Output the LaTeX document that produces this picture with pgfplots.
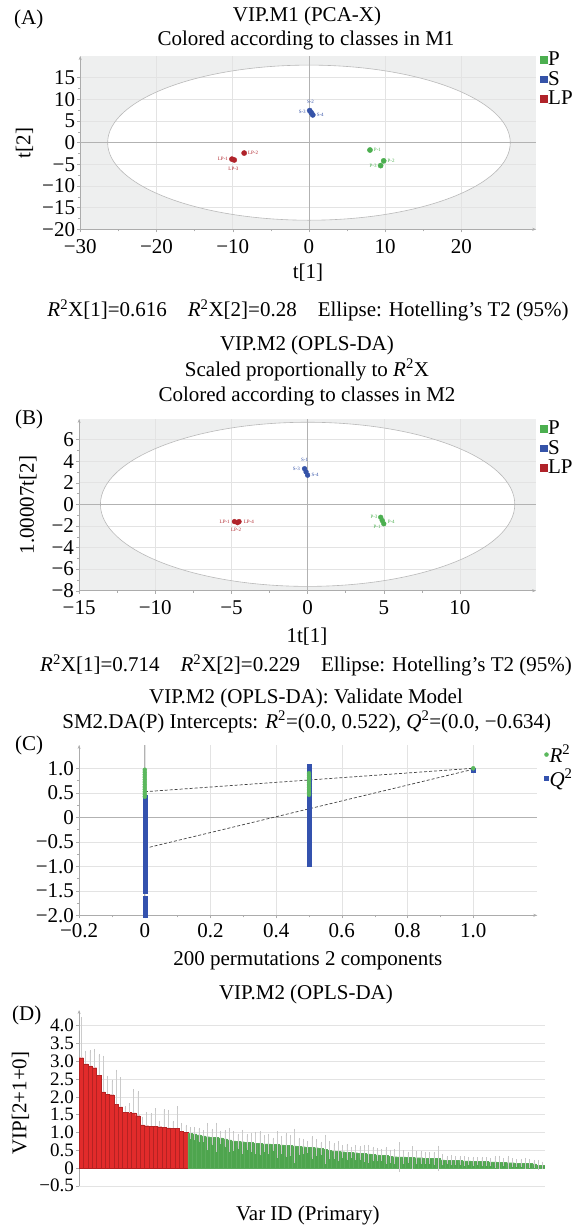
\documentclass[border=0pt]{standalone}
\usepackage{fontspec}
\setmainfont{Liberation Serif}
\usepackage{pgfplots}
\pgfplotsset{compat=1.18}
\usepackage{pgfplotstable}
\usetikzlibrary{arrows.meta}

\definecolor{pgreen}{HTML}{4CAF50}
\definecolor{sblue}{HTML}{3553A8}
\definecolor{lpred}{HTML}{B0232A}
\definecolor{rgreen}{HTML}{5BB85D}
\definecolor{qblue}{HTML}{3452AE}
\definecolor{barred}{HTML}{E22B2B}
\definecolor{bargreen}{HTML}{4EA54E}
\definecolor{bggray}{HTML}{EEEFEF}

\newcommand\F{\fontsize{21}{24}\selectfont}
\newcommand\lab{\fontsize{5}{6}\selectfont}
\newcommand\Rsq{\textit{R}\textsuperscript{2}}
\newcommand\Qsq{\textit{Q}\textsuperscript{2}}

% VIP values (panel D), x = variable rank
\pgfplotstableread{
x y e
1 3.10 1.10
2 2.93 0.33
3 2.87 0.41
4 2.82 0.49
5 2.60 0.57
6 2.14 0.98
7 2.08 0.48
8 2.06 0.38
9 1.79 0.94
10 1.72 0.79
11 1.57 0.13
12 1.56 0.23
13 1.55 0.63
14 1.47 0.65
15 1.21 0.18
16 1.19 0.34
17 1.18 0.32
18 1.17 0.47
19 1.16 0.13
20 1.14 0.48
21 1.13 0.47
22 1.12 0.17
23 1.12 0.58
24 1.03 0.20
25 1.01 0.17
}\redtab
\pgfplotstableread{
x y e
26 0.98 0.13
27 0.96 0.15
28 0.93 0.17
29 0.90 0.12
30 0.88 0.35
31 0.87 0.20
32 0.86 0.38
33 0.85 0.15
34 0.82 0.20
35 0.79 0.30
36 0.76 0.25
37 0.75 0.18
38 0.74 0.30
39 0.73 0.18
40 0.72 0.22
41 0.70 0.28
42 0.69 0.30
43 0.68 0.20
44 0.68 0.25
45 0.67 0.15
46 0.66 0.33
47 0.65 0.22
48 0.64 0.30
49 0.63 0.25
50 0.62 0.45
51 0.61 0.20
52 0.60 0.18
53 0.59 0.12
54 0.58 0.28
55 0.57 0.20
56 0.55 0.15
57 0.52 0.38
58 0.50 0.22
59 0.48 0.18
60 0.47 0.25
61 0.46 0.15
62 0.45 0.20
63 0.44 0.12
64 0.43 0.18
65 0.42 0.15
66 0.41 0.20
67 0.40 0.22
68 0.39 0.17
69 0.37 0.15
70 0.36 0.13
71 0.35 0.20
72 0.33 0.15
73 0.32 0.18
74 0.31 0.38
75 0.31 0.15
76 0.30 0.12
77 0.30 0.28
78 0.29 0.15
79 0.29 0.14
80 0.28 0.13
81 0.28 0.12
82 0.27 0.15
83 0.27 0.32
84 0.23 0.12
85 0.22 0.08
86 0.22 0.10
87 0.21 0.09
88 0.21 0.08
89 0.20 0.10
90 0.20 0.08
91 0.19 0.09
92 0.19 0.07
93 0.18 0.10
94 0.18 0.08
95 0.17 0.07
96 0.17 0.12
97 0.16 0.15
98 0.16 0.08
99 0.15 0.14
100 0.15 0.09
101 0.14 0.07
102 0.14 0.08
103 0.13 0.12
104 0.13 0.08
105 0.12 0.07
106 0.08 0.10
107 0.07 0.07
}\greentab

\pgfplotsset{
  panel/.style={
    scale only axis, enlargelimits=false, axis lines=left,
    axis line style={gray!65, line width=0.6pt, -{Stealth[length=4pt,width=3pt]}},
    tick align=outside, major tick length=3pt, minor tick length=2pt,
    tick style={gray!65, line width=0.4pt},
    grid=major, major grid style={gray!22, line width=0.5pt},
    ticklabel style={font=\F},
    yticklabel style={inner xsep=2pt},
    xticklabel style={inner ysep=2pt, yshift=-3pt},
  },
  sqlegend/.style={
    legend style={draw=none, fill=none, font=\F, inner sep=0pt,
      at={(axis description cs:1,1)}, anchor=north west, row sep=2pt,
      legend cell align=left, nodes={inner sep=1pt}},
    legend image code/.code={\fill (0pt,-3.3pt) rectangle (6.6pt,3.3pt);},
  },
  vipbar/.style={ybar, bar shift=0pt, bar width=1, line width=0.25pt,
    error bars/.cd, y explicit,
    error bar style={gray!40, line width=0.3pt},
    error mark options={gray!45, mark size=1.3pt, line width=0.3pt}},
}

\begin{document}
\begin{tikzpicture}[font=\F, txt/.style={inner sep=0pt}]

% ---------------- (A) PCA-X score plot
\node[txt, anchor=base west] at (14pt,-24pt) {(A)};
\node[txt, anchor=base] at (307pt,-21pt) {VIP.M1 (PCA-X)};
\node[txt, anchor=base] at (306pt,-45pt) {Colored according to classes in M1};
\begin{axis}[panel, sqlegend, set layers,
  at={(80.2pt,-229.3pt)}, anchor=south west, width=456pt, height=173.3pt,
  xmin=-30, xmax=29.8, ymin=-20, ymax=20,
  xtick={-30,-20,-10,0,10,20}, xticklabels={−30,−20,−10,0,10,20},
  ytick={-20,-15,-10,-5,0,5,10,15}, yticklabels={−20,−15,−10,−5,0,5,10,15},
  minor x tick num=1, minor y tick num=1,
  xticklabel style={yshift=-2pt},
  legend style={xshift=3.8pt, yshift=5pt}]
\begin{pgfonlayer}{axis background}
  \fill[bggray] (rel axis cs:0,0) rectangle (rel axis cs:1,1);
  \fill[white] (axis cs:0,0) ellipse [x radius=26.4, y radius=17.9];
\end{pgfonlayer}
\draw[gray!55, line width=0.6pt] (axis cs:0,0) ellipse [x radius=26.4, y radius=17.9];
\draw[gray!60, line width=0.8pt] (axis cs:-30,0) -- (axis cs:29.8,0);
\draw[gray!60, line width=0.8pt] (axis cs:0,-20) -- (axis cs:0,20);
\addplot[only marks, mark=*, mark size=2.6pt, pgreen] coordinates {(8.0,-1.7) (9.8,-4.2) (9.4,-5.3)};
\addlegendentry{P}
\addplot[only marks, mark=*, mark size=2.6pt, sblue] coordinates {(0.1,7.4) (0.3,6.9) (0.5,6.4)};
\addlegendentry{S}
\addplot[only marks, mark=*, mark size=2.6pt, lpred] coordinates {(-10.1,-3.8) (-9.8,-4.0) (-8.5,-2.4)};
\addlegendentry{LP}
\node[font=\lab, sblue, inner sep=0pt] at (axis cs:0.2,9.4) {S-2};
\node[font=\lab, sblue, inner sep=0pt, anchor=east] at (axis cs:-0.4,7.0) {S-3};
\node[font=\lab, sblue, inner sep=0pt, anchor=west] at (axis cs:1.0,6.4) {S-4};
\node[font=\lab, lpred, inner sep=0pt, anchor=east] at (axis cs:-10.6,-3.8) {LP-1};
\node[font=\lab, lpred, inner sep=0pt, anchor=west] at (axis cs:-8.0,-2.4) {LP-2};
\node[font=\lab, lpred, inner sep=0pt] at (axis cs:-9.9,-6.0) {LP-3};
\node[font=\lab, pgreen, inner sep=0pt, anchor=west] at (axis cs:8.5,-1.7) {P-1};
\node[font=\lab, pgreen, inner sep=0pt, anchor=west] at (axis cs:10.3,-4.2) {P-2};
\node[font=\lab, pgreen, inner sep=0pt, anchor=east] at (axis cs:8.9,-5.3) {P-3};
\end{axis}
\node[txt, anchor=base] at (308pt,-278pt) {t[1]};
\node[txt, rotate=90] at (24.5pt,-143pt) {t[2]};

% ---------------- (B) OPLS-DA score plot
\node[txt, anchor=base] at (308pt,-316.7pt) {\Rsq X[1]=0.616\quad\Rsq X[2]=0.28\quad Ellipse: Hotelling’s T2 (95\%)};
\node[txt, anchor=base] at (307pt,-350pt) {VIP.M2 (OPLS-DA)};
\node[txt, anchor=base] at (307pt,-376pt) {Scaled proportionally to \Rsq X};
\node[txt, anchor=base] at (307pt,-401.7pt) {Colored according to classes in M2};
\node[txt, anchor=base west] at (15pt,-424pt) {(B)};
\begin{axis}[panel, sqlegend, set layers,
  at={(79.1pt,-590.7pt)}, anchor=south west, width=457pt, height=171.7pt,
  xmin=-15, xmax=15, ymin=-8, ymax=7.9,
  xtick={-15,-10,-5,0,5,10}, xticklabels={−15,−10,−5,0,5,10},
  ytick={-8,-6,-4,-2,0,2,4,6}, yticklabels={−8,−6,−4,−2,0,2,4,6},
  minor x tick num=1, minor y tick num=1,
  xticklabel style={yshift=-2pt},
  legend style={xshift=3.8pt, yshift=-1pt}]
\begin{pgfonlayer}{axis background}
  \fill[bggray] (rel axis cs:0,0) rectangle (rel axis cs:1,1);
  \fill[white] (axis cs:0,0) ellipse [x radius=13.6, y radius=7.6];
\end{pgfonlayer}
\draw[gray!55, line width=0.6pt] (axis cs:0,0) ellipse [x radius=13.6, y radius=7.6];
\draw[gray!60, line width=0.8pt] (axis cs:-15,0) -- (axis cs:15,0);
\draw[gray!60, line width=0.8pt] (axis cs:0,-8) -- (axis cs:0,7.9);
\addplot[only marks, mark=*, mark size=2.4pt, pgreen] coordinates {(4.8,-1.2) (4.9,-1.5) (5.0,-1.8)};
\addlegendentry{P}
\addplot[only marks, mark=*, mark size=2.4pt, sblue] coordinates {(-0.2,3.3) (-0.1,3.0) (0.0,2.7)};
\addlegendentry{S}
\addplot[only marks, mark=*, mark size=2.4pt, lpred] coordinates {(-4.8,-1.6) (-4.6,-1.7) (-4.5,-1.6)};
\addlegendentry{LP}
\node[font=\lab, sblue, inner sep=0pt] at (axis cs:-0.2,4.1) {S-1};
\node[font=\lab, sblue, inner sep=0pt, anchor=east] at (axis cs:-0.5,3.3) {S-3};
\node[font=\lab, sblue, inner sep=0pt, anchor=west] at (axis cs:0.25,2.7) {S-4};
\node[font=\lab, lpred, inner sep=0pt, anchor=east] at (axis cs:-5.1,-1.6) {LP-1};
\node[font=\lab, lpred, inner sep=0pt, anchor=west] at (axis cs:-4.2,-1.6) {LP-4};
\node[font=\lab, lpred, inner sep=0pt] at (axis cs:-4.7,-2.4) {LP-2};
\node[font=\lab, pgreen, inner sep=0pt, anchor=east] at (axis cs:4.6,-1.2) {P-3};
\node[font=\lab, pgreen, inner sep=0pt, anchor=west] at (axis cs:5.25,-1.6) {P-4};
\node[font=\lab, pgreen, inner sep=0pt, anchor=east] at (axis cs:4.8,-2.1) {P-1};
\end{axis}
\node[txt, anchor=base] at (307pt,-642pt) {1t[1]};
\node[txt, rotate=90] at (28pt,-505pt) {1.00007t[2]};

% ---------------- (C) permutation test
\node[txt, anchor=base] at (306pt,-671.7pt) {\Rsq X[1]=0.714\quad\Rsq X[2]=0.229\quad Ellipse: Hotelling’s T2 (95\%)};
\node[txt, anchor=base] at (306pt,-703.3pt) {VIP.M2 (OPLS-DA): Validate Model};
\node[txt, anchor=base] at (306.7pt,-728.3pt) {SM2.DA(P) Intercepts: \Rsq=(0.0, 0.522), \Qsq=(0.0, −0.634)};
\node[txt, anchor=base west] at (15pt,-750pt) {(C)};
\begin{axis}[panel,
  at={(79.1pt,-915.3pt)}, anchor=south west, width=458.2pt, height=170.3pt,
  xmin=-0.2, xmax=1.195, ymin=-2, ymax=1.475,
  xtick={-0.2,0,0.2,0.4,0.6,0.8,1.0}, xticklabels={−0.2,0,0.2,0.4,0.6,0.8,1.0},
  ytick={-2,-1.5,-1,-0.5,0,0.5,1}, yticklabels={−2.0,−1.5,−1.0,−0.5,0,0.5,1.0},
  minor x tick num=1, minor y tick num=1,
  reverse legend,
  legend style={draw=none, fill=none, font=\F, inner sep=0pt,
    at={(axis description cs:1,1)}, anchor=north west, xshift=7pt, yshift=1pt,
    row sep=3pt, legend cell align=left, nodes={inner sep=1pt}},
  legend image code/.code={\draw plot coordinates {(2.5pt,0pt)};}]
\draw[gray!60, line width=0.8pt] (axis cs:-0.2,0) -- (axis cs:1.195,0);
\draw[gray!60, line width=0.8pt] (axis cs:0,-2) -- (axis cs:0,1.475);
\addplot[only marks, mark=square*, mark size=2pt, qblue] coordinates {
 (0,-2.00) (0,-1.95) (0,-1.90) (0,-1.85) (0,-1.80) (0,-1.75) (0,-1.70) (0,-1.65)
 (0,-1.50) (0,-1.45) (0,-1.40) (0,-1.35) (0,-1.30) (0,-1.25) (0,-1.20) (0,-1.15)
 (0,-1.10) (0,-1.05) (0,-1.00) (0,-0.95) (0,-0.90) (0,-0.85) (0,-0.80) (0,-0.75)
 (0,-0.70) (0,-0.65) (0,-0.60) (0,-0.55) (0,-0.50) (0,-0.45) (0,-0.40) (0,-0.35)
 (0,-0.30) (0,-0.25) (0,-0.20) (0,-0.15) (0,-0.10) (0,-0.05) (0,0.00) (0,0.05)
 (0,0.10) (0,0.15) (0,0.20) (0,0.25) (0,0.30) (0,0.35) (0,0.40)
 (0.5,-0.95) (0.5,-0.90) (0.5,-0.85) (0.5,-0.80) (0.5,-0.75) (0.5,-0.70) (0.5,-0.65)
 (0.5,-0.60) (0.5,-0.55) (0.5,-0.50) (0.5,-0.45) (0.5,-0.40) (0.5,-0.35) (0.5,-0.30)
 (0.5,-0.25) (0.5,-0.20) (0.5,-0.15) (0.5,-0.10) (0.5,-0.05) (0.5,0.00) (0.5,0.05)
 (0.5,0.10) (0.5,0.15) (0.5,0.20) (0.5,0.25) (0.5,0.30) (0.5,0.35) (0.5,0.40)
 (0.5,0.45) (0.5,0.50) (0.5,0.55) (0.5,0.60) (0.5,0.65) (0.5,0.70) (0.5,0.75)
 (0.5,0.80) (0.5,0.85) (0.5,0.90) (0.5,0.95) (0.5,1.00) (0.5,1.04)
 (1,0.97)};
\addlegendentry{\Qsq}
\addplot[only marks, mark=*, mark size=2pt, rgreen] coordinates {
 (0,0.42) (0,0.47) (0,0.52) (0,0.57) (0,0.62) (0,0.67) (0,0.72) (0,0.77)
 (0,0.82) (0,0.87) (0,0.92) (0,0.97)
 (0.5,0.46) (0.5,0.51) (0.5,0.56) (0.5,0.61) (0.5,0.66) (0.5,0.71) (0.5,0.76)
 (0.5,0.81) (0.5,0.86) (0.5,0.90)
 (1,1.00)};
\addlegendentry{\Rsq}
\addplot[forget plot, black!75, densely dashed, line width=0.7pt] coordinates {(0,0.522) (1,1.0)};
\addplot[forget plot, black!75, densely dashed, line width=0.7pt] coordinates {(0,-0.634) (1,0.98)};
\end{axis}
\node[txt, anchor=base] at (307.8pt,-965pt) {200 permutations 2 components};

% ---------------- (D) VIP plot
\node[txt, anchor=base] at (306pt,-999.3pt) {VIP.M2 (OPLS-DA)};
\node[txt, anchor=base west] at (12pt,-1020.7pt) {(D)};
\begin{axis}[panel, axis x line=none, xmajorgrids=false,
  at={(79.1pt,-1185.8pt)}, anchor=south west, width=465.7pt, height=175.8pt,
  xmin=0.5, xmax=107.5, ymin=-0.5, ymax=4.44, xtick=\empty,
  ytick={-0.5,0,0.5,1,1.5,2,2.5,3,3.5,4},
  yticklabels={−0.5,0,0.5,1.0,1.5,2.0,2.5,3.0,3.5,4.0},
  yticklabel style={font=\fontsize{19}{20}\selectfont}]
\draw[gray!60, line width=0.8pt] (axis cs:0.5,0) -- (axis cs:107.5,0);
\addplot[fill=barred, draw=barred!80!black, vipbar, y dir=plus] table[x=x, y=y, y error=e] {\redtab};
\addplot[fill=bargreen, draw=bargreen!92!white, vipbar, y dir=both] table[x=x, y=y, y error=e] {\greentab};
\end{axis}
\node[txt, anchor=base] at (307.8pt,-1220pt) {Var ID (Primary)};
\node[txt, rotate=90] at (20.5pt,-1103pt) {VIP[2+1+0]};

\pgfresetboundingbox
\path[use as bounding box] (0,0) rectangle (582pt,-1227pt);
\end{tikzpicture}
\end{document}
